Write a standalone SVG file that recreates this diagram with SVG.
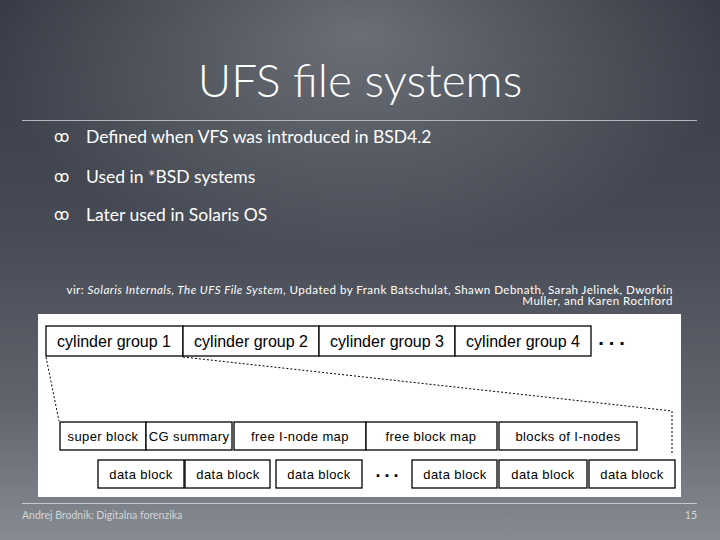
<svg xmlns="http://www.w3.org/2000/svg" width="720" height="540" viewBox="0 0 720 540">
<defs>
<linearGradient id="bg" x1="0" y1="0" x2="0" y2="1">
<stop offset="0" stop-color="#343943"/>
<stop offset="0.45" stop-color="#474c56"/>
<stop offset="0.75" stop-color="#60646d"/>
<stop offset="1" stop-color="#878b92"/>
</linearGradient>
<radialGradient id="hl" cx="360" cy="20" r="380" gradientUnits="userSpaceOnUse" gradientTransform="translate(0,20) scale(1,0.6)">
<stop offset="0" stop-color="#ffffff" stop-opacity="0.26"/>
<stop offset="1" stop-color="#ffffff" stop-opacity="0"/>
</radialGradient>
<style>
.box{fill:#ffffff;stroke:#000000;stroke-width:1.3}
.big{font-family:"Liberation Sans",Arial,sans-serif;font-size:16px;fill:#000;text-anchor:middle}
.sm{font-family:"Liberation Sans",Arial,sans-serif;font-size:13px;fill:#000;text-anchor:middle;letter-spacing:0.4px}
.dots{font-family:"Liberation Sans",Arial,sans-serif;font-weight:bold;fill:#000;text-anchor:middle}
.conn{fill:none;stroke:#000;stroke-width:1;stroke-dasharray:2 2}
.bul{font-family:"DejaVu Sans",sans-serif;font-size:15px;fill:#fff}
.btx{font-family:Lato,"Open Sans",sans-serif;font-size:17.5px;fill:#fff}
.cit{font-family:Lato,"Open Sans",sans-serif;font-size:11.6px;letter-spacing:0.45px;fill:#fff;text-anchor:end}
.foot{font-family:Lato,"Open Sans",sans-serif;font-size:10.5px;fill:#d4d6d9}
</style>
</defs>
<rect width="720" height="540" fill="url(#bg)"/>
<rect width="720" height="540" fill="url(#hl)"/>
<g id="title">
<text x="360" y="97" text-anchor="middle" font-family="Lato,'Open Sans',sans-serif" font-weight="300" font-size="46" fill="#fff">UFS file systems</text>
<line x1="22" y1="120.5" x2="697" y2="120.5" stroke="#b4b7bc" stroke-width="1"/>
</g>
<g id="bullets">
<text class="bul" x="54" y="142">ꝏ</text><text class="btx" x="86" y="143">Defined when VFS was introduced in BSD4.2</text>
<text class="bul" x="54" y="182">ꝏ</text><text class="btx" x="86" y="183">Used in *BSD systems</text>
<text class="bul" x="54" y="220">ꝏ</text><text class="btx" x="86" y="221">Later used in Solaris OS</text>
</g>
<g id="citation">
<text class="cit" x="673" y="293.5">vir: <tspan font-style="italic">Solaris Internals, The UFS File System</tspan>, Updated by Frank Batschulat, Shawn Debnath, Sarah Jelinek, Dworkin</text>
<text class="cit" x="673" y="305">Muller, and Karen Rochford</text>
</g>
<rect id="panel" x="38" y="314" width="643" height="183" fill="#ffffff"/>
<g id="connectors">
<polyline class="conn" points="46,357 59,421"/>
<polyline class="conn" points="183,357 672,411 672,455"/>
</g>
<g id="cg1"><rect class="box" x="46" y="326" width="137" height="30"/><text class="big" x="114" y="347">cylinder group 1</text></g>
<g id="cg2"><rect class="box" x="183" y="326" width="136" height="30"/><text class="big" x="251" y="347">cylinder group 2</text></g>
<g id="cg3"><rect class="box" x="319" y="326" width="136" height="30"/><text class="big" x="387" y="347">cylinder group 3</text></g>
<g id="cg4"><rect class="box" x="455" y="326" width="136" height="30"/><text class="big" x="523" y="347">cylinder group 4</text></g>
<g id="cg-more"><text class="dots" x="614" y="345" font-size="20" letter-spacing="5">...</text></g>
<g id="super-block"><rect class="box" x="60" y="422" width="86" height="28"/><text class="sm" x="103" y="441">super block</text></g>
<g id="cg-summary"><rect class="box" x="146" y="422" width="86" height="28"/><text class="sm" x="189" y="441">CG summary</text></g>
<g id="free-inode-map"><rect class="box" x="234" y="422" width="132" height="28"/><text class="sm" x="300" y="441">free I-node map</text></g>
<g id="free-block-map"><rect class="box" x="366" y="422" width="131" height="28"/><text class="sm" x="431" y="441">free block map</text></g>
<g id="blocks-of-inodes"><rect class="box" x="499" y="422" width="138" height="28"/><text class="sm" x="568" y="441">blocks of I-nodes</text></g>
<g id="db1"><rect class="box" x="98" y="460" width="86" height="28"/><text class="sm" x="141" y="479">data block</text></g>
<g id="db2"><rect class="box" x="185" y="460" width="85" height="28"/><text class="sm" x="228" y="479">data block</text></g>
<g id="db3"><rect class="box" x="276" y="460" width="86" height="28"/><text class="sm" x="319" y="479">data block</text></g>
<g id="db-more"><text class="dots" x="389" y="477" font-size="18" letter-spacing="4">...</text></g>
<g id="db4"><rect class="box" x="412" y="460" width="85" height="28"/><text class="sm" x="455" y="479">data block</text></g>
<g id="db5"><rect class="box" x="499" y="460" width="88" height="28"/><text class="sm" x="543" y="479">data block</text></g>
<g id="db6"><rect class="box" x="589" y="460" width="86" height="28"/><text class="sm" x="632" y="479">data block</text></g>
<g id="footer">
<line x1="22" y1="503.5" x2="697" y2="503.5" stroke="#c4c7cb" stroke-width="1"/>
<text class="foot" x="22" y="519">Andrej Brodnik: Digitalna forenzika</text>
<text class="foot" x="697" y="519" text-anchor="end">15</text>
</g>
</svg>
